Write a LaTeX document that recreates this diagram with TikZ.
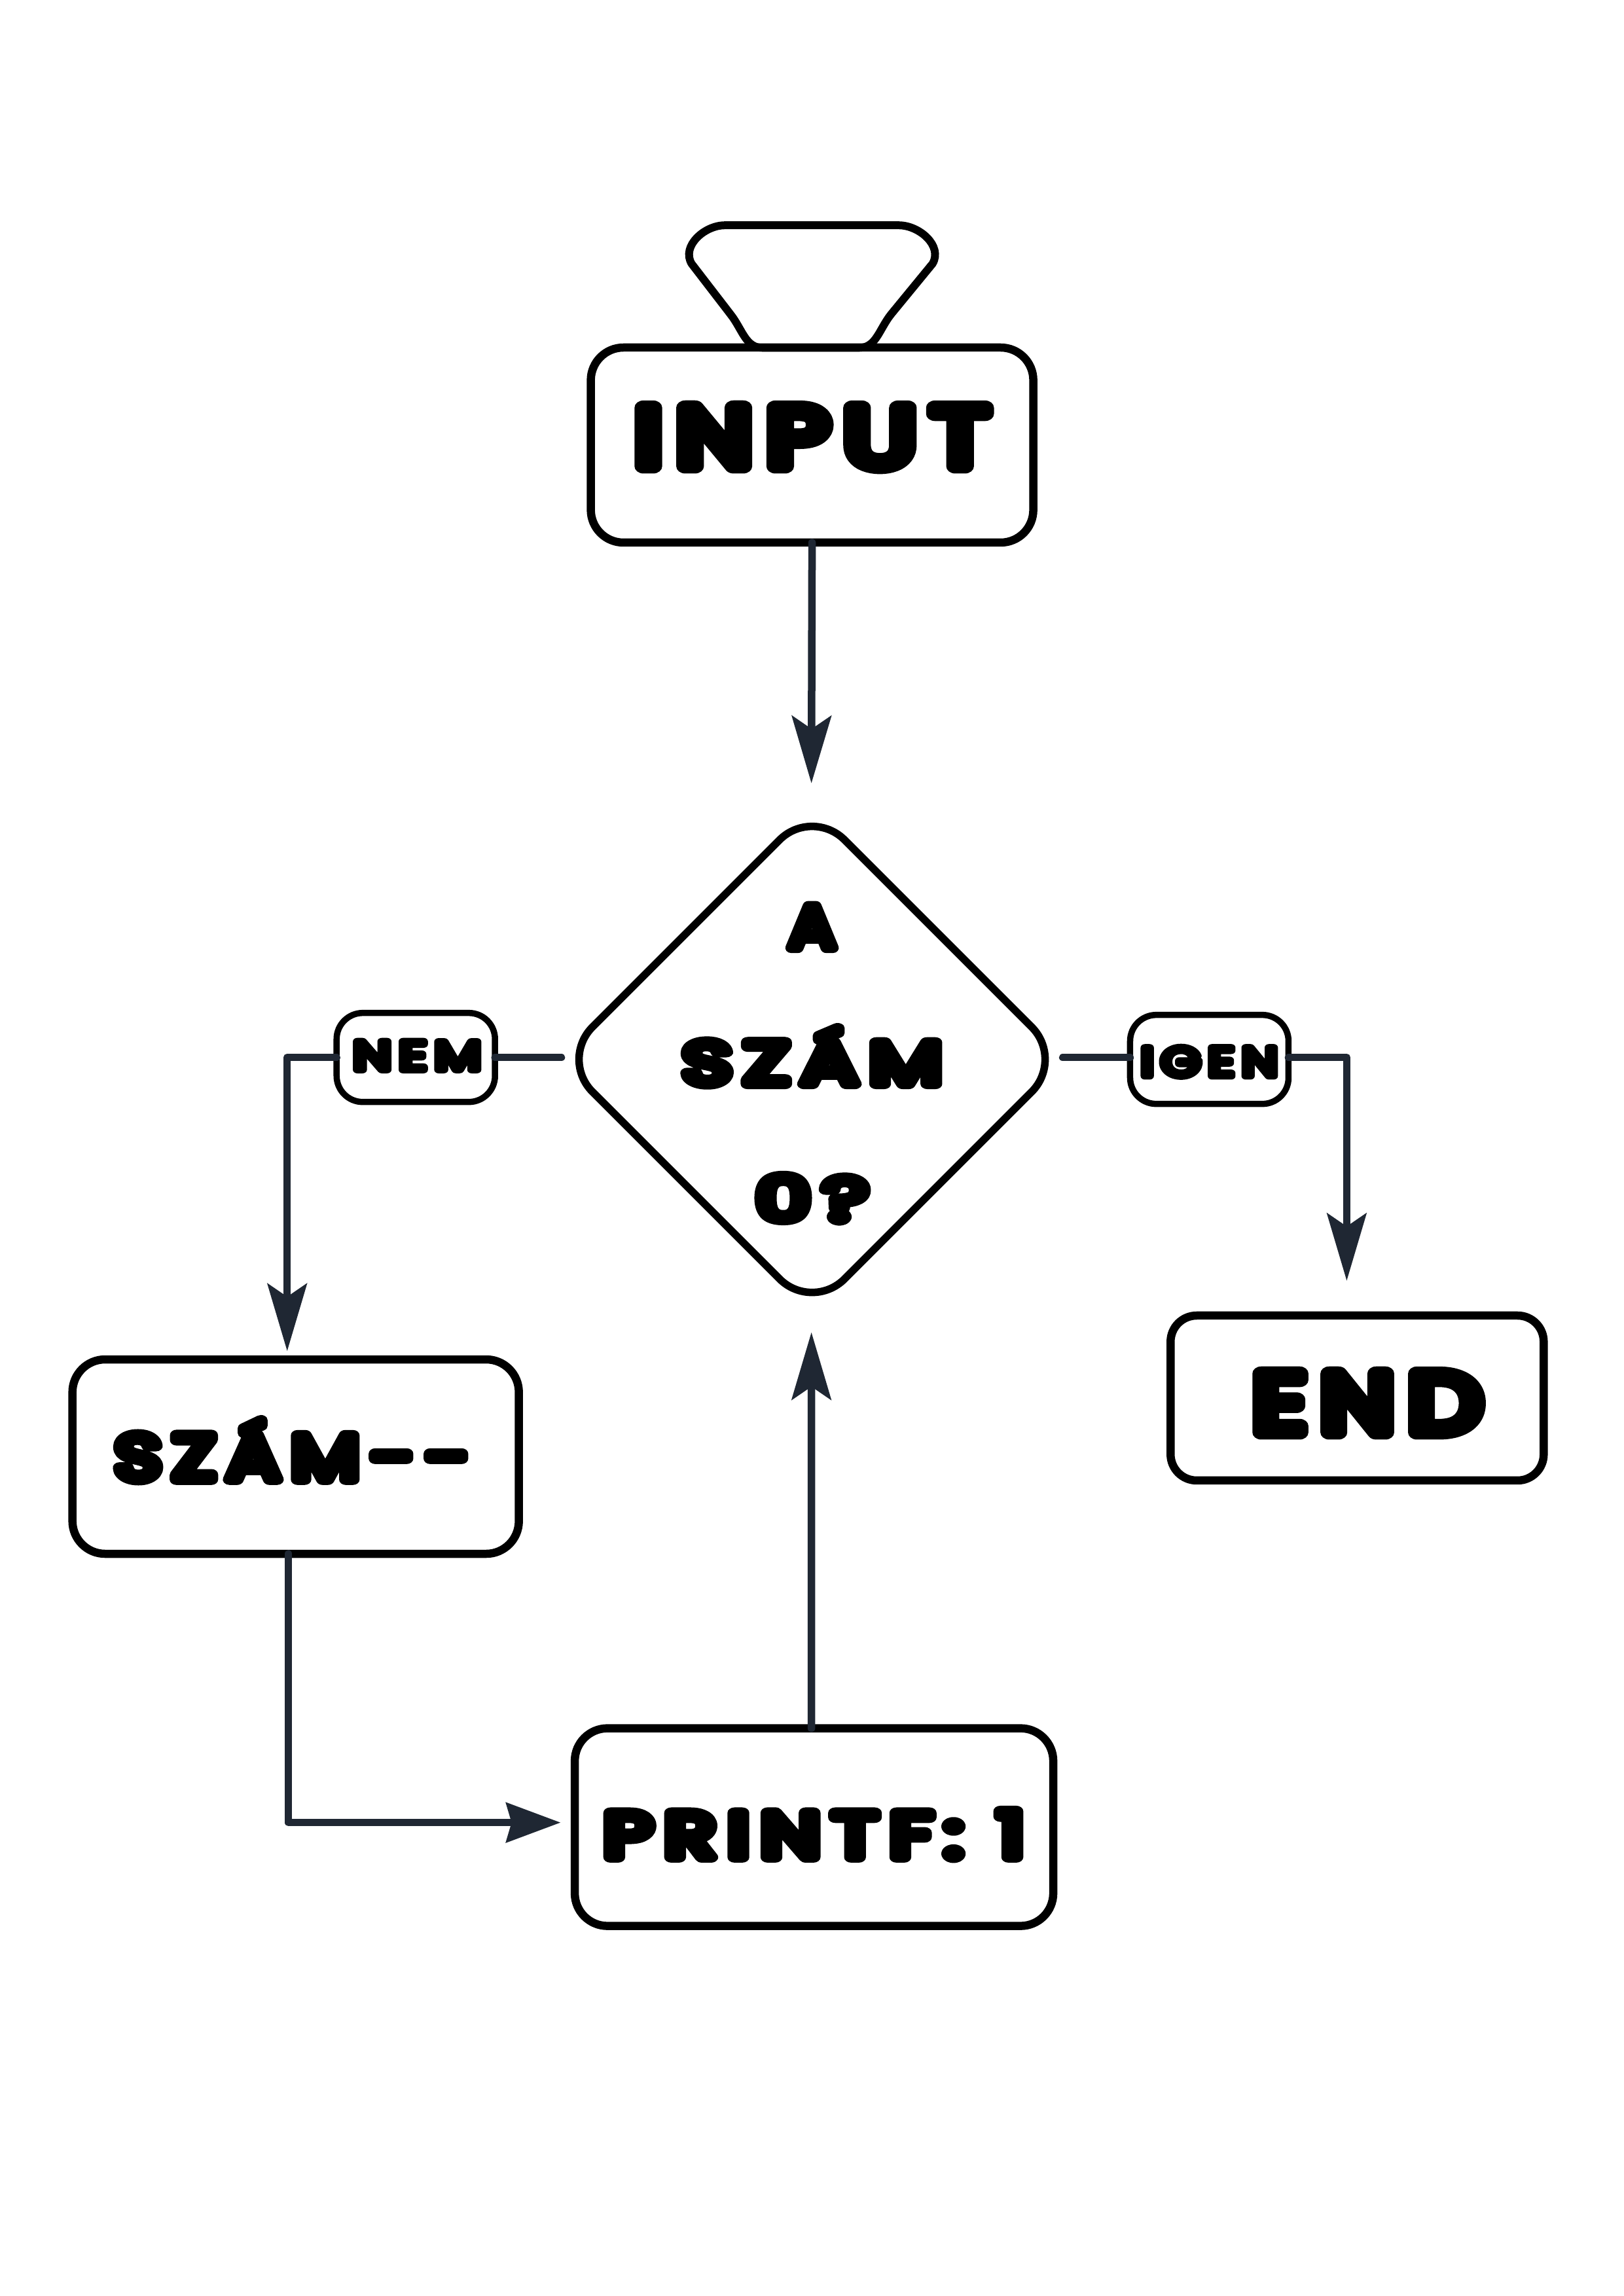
\documentclass[tikz,border=0pt]{standalone}
\usepackage{fontspec}
\usepackage{graphicx}
\usetikzlibrary{arrows.meta,shapes.geometric}
\newfontfamily\blob[FakeBold=17,LetterSpace=15]{Poppins}
\definecolor{linkc}{HTML}{1F2733}
% size(pt), xscale, dx, baseline raise, text
\newcommand\lab[5]{\makebox[0pt][c]{\hspace*{\dimexpr#3*2\relax}\raisebox{#4}[0pt][0pt]{\scalebox{#2}[1]{\special{pdf:code 1 j 1 J}\fontsize{#1}{#1}\selectfont\blob #5}}}}
\tikzset{
 boxn/.style={draw=black,line width=0.125cm,fill=white,rectangle,inner sep=0pt,outer sep=0pt,rounded corners=#1},
 boxn/.default=0.5cm,
 tag/.style={boxn=0.4cm,line width=0.095cm,minimum width=2.42cm,minimum height=1.36cm},
 diam/.style={draw=black,line width=0.115cm,fill=white,diamond,aspect=1,inner sep=0pt,outer sep=0pt,rounded corners=0.7cm,minimum width=7.7cm,minimum height=7.7cm},
 link/.style={draw=linkc,line width=0.115cm,line cap=round,line join=round},
 tipped/.style={link,-{Stealth[length=1.03cm,width=0.6cm,inset=0.2cm,fill=linkc]}},
 tippedh/.style={link,-{Stealth[length=0.83cm,width=0.6cm,inset=0.08cm,fill=linkc]}}
}
\begin{document}
\begin{tikzpicture}[x=0.009954cm,y=-0.009954cm]
\useasboundingbox (0,0) rectangle (24.8cm,-35.08cm);
\fill[white] (0,0) rectangle (24.8cm,-35.08cm);
\coordinate (dL) at (862,1624);
\coordinate (dR) at (1632,1624);
\coordinate (inDiaTop) at (1246,1203);
\coordinate (inDiaBot) at (1246,2046);
\coordinate (tipEnd) at (2068,1967);
\coordinate (tipDec) at (441,2075);
\coordinate (tipPrint) at (861,2799);
\node[boxn,minimum width=6.76cm,minimum height=2.98cm] (input) at (1247,683.5)
  {\lab{36.6}{1.255}{0cm}{-0.325cm}{INPUT}};
\node[boxn,minimum width=6.82cm,minimum height=2.97cm] (dec) at (454,2237)
  {\lab{27.7}{1.23}{-0.056cm}{-0.35cm}{SZÁM-{}-}};
\node[boxn,minimum width=7.31cm,minimum height=3.02cm] (print) at (1250,2806)
  {\lab{27.7}{1.31}{0cm}{-0.46cm}{PRINTF: 1}};
\node[boxn=0.4cm,minimum width=5.7cm,minimum height=2.52cm] (end) at (2084,2147)
  {\lab{36.6}{1.22}{0.157cm}{-0.525cm}{END}};
\node[diam] (dia) at (1247,1627)
  {\lab{26.2}{1.14}{0cm}{1.704cm}{A}\lab{26.2}{1.38}{0cm}{-0.376cm}{SZÁM}\lab{26.2}{1.42}{0cm}{-2.456cm}{0?}};
\draw[tipped] (input.south) -- (inDiaTop);
\draw[tipped] ([xshift=-0.04cm]print.north) -- (inDiaBot);
\draw[tippedh] ([xshift=-0.11cm]dec.south) |- (tipPrint);
\node[tag] (nem) at (638.5,1624)
  {\lab{17.8}{1.31}{0.02cm}{-0.19cm}{NEM}};
\node[tag] (igen) at (1857,1627)
  {\lab{17.8}{1.24}{0cm}{-0.255cm}{IGEN}};
\draw[link] (dL) -- (nem.east);
\draw[tipped] (nem.west) -| (tipDec);
\draw[link] (dR) -- (igen.west |- dR);
\draw[tipped] (igen.east |- dR) -| (tipEnd);
% funnel
\draw[draw=black,line width=0.12cm,line join=round]
 (1113,346) -- (1380,346)
 .. controls (1412,346) and (1448,378) .. (1432,405)
 -- (1368,483)
 .. controls (1350,506) and (1345,534) .. (1320,534)
 -- (1170,534)
 .. controls (1145,534) and (1140,506) .. (1122,483)
 -- (1062,405)
 .. controls (1046,378) and (1082,346) .. (1113,346) -- cycle;
\end{tikzpicture}
\end{document}
